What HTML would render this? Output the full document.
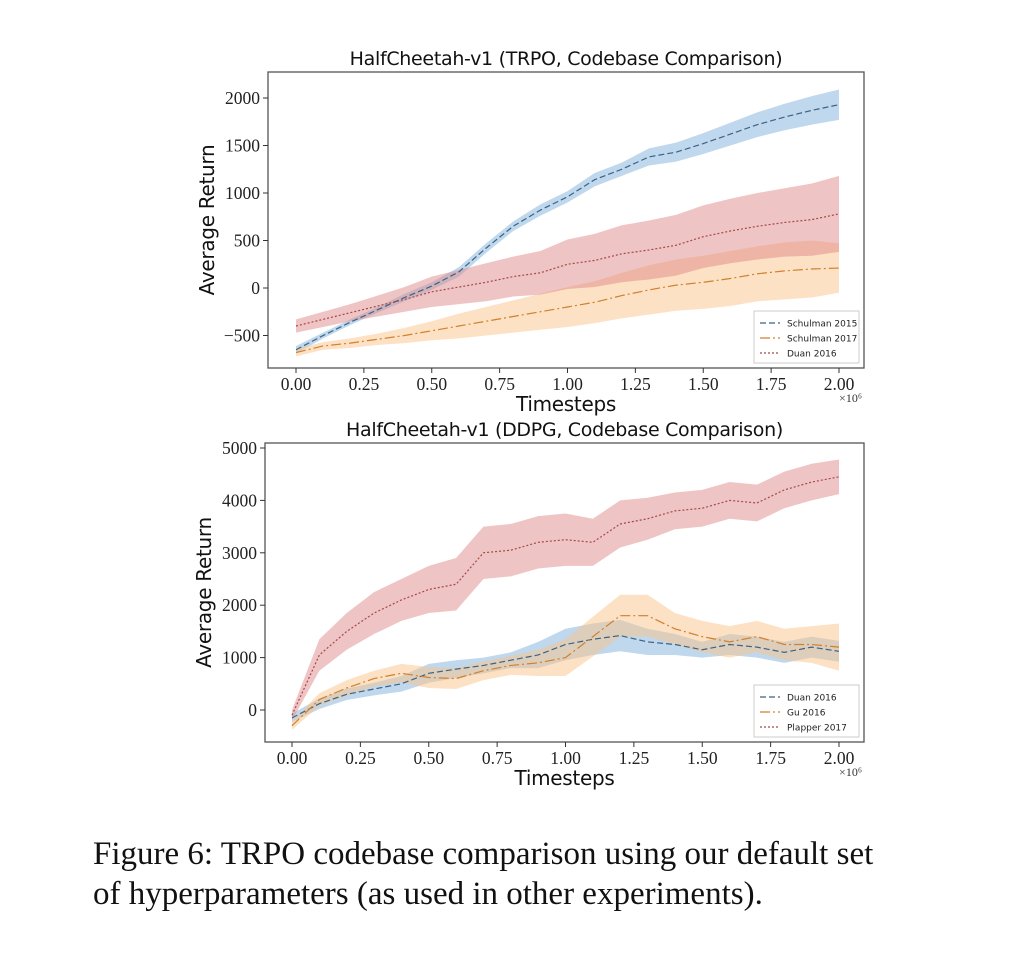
<!DOCTYPE html>
<html><head><meta charset="utf-8"><style>
body{margin:0;background:#fff;width:1024px;height:973px;overflow:hidden;font-family:"Liberation Serif",serif}
svg{position:absolute;left:0;top:0}
.cap{position:absolute;left:93px;font-size:33px;color:#111;font-family:"Liberation Serif",serif;white-space:nowrap}
</style></head><body>
<svg id="chart" width="1024" height="973"></svg>
<div class="cap" style="top:836px">Figure 6: TRPO codebase comparison using our default set</div>
<div class="cap" style="top:876px">of hyperparameters (as used in other experiments).</div>
<script>
const xs = [0,0.1,0.2,0.3,0.4,0.5,0.6,0.7,0.8,0.9,1.0,1.1,1.2,1.3,1.4,1.5,1.6,1.7,1.8,1.9,2.0];
const xTicks = [0,0.25,0.5,0.75,1.0,1.25,1.5,1.75,2.0];
const xTickLabels = ["0.00","0.25","0.50","0.75","1.00","1.25","1.50","1.75","2.00"];
// Top chart (TRPO)
const topYTicks = [-500,0,500,1000,1500,2000];
const topYTickLabels = ["\u2212500","0","500","1000","1500","2000"];
const topNames = ["Schulman 2015","Schulman 2017","Duan 2016"];
const topMean = [
 [-650,-500,-360,-230,-100,20,170,420,650,820,960,1140,1250,1380,1430,1520,1620,1720,1800,1870,1930],
 [-680,-610,-580,-540,-500,-450,-400,-350,-300,-250,-200,-150,-80,-20,30,60,100,150,180,200,210],
 [-400,-330,-260,-190,-120,-40,10,60,120,160,250,290,360,400,450,540,600,650,690,720,780]];
const topSpread = [
 [40,30,30,30,40,40,50,50,50,60,60,70,70,90,100,110,120,130,140,150,160],
 [40,40,50,60,80,100,130,150,170,190,210,220,240,260,270,280,290,290,300,300,260],
 [70,80,90,110,130,160,180,200,210,230,260,280,300,310,320,330,340,350,360,380,400]];
// Bottom chart (DDPG)
const botYTicks = [0,1000,2000,3000,4000,5000];
const botYTickLabels = ["0","1000","2000","3000","4000","5000"];
const botNames = ["Duan 2016","Gu 2016","Plapper 2017"];
const botMean = [
 [-150,120,300,400,500,700,780,850,950,1050,1250,1350,1420,1300,1250,1150,1250,1200,1100,1200,1120],
 [-300,200,420,600,700,620,600,750,850,900,1000,1400,1800,1800,1550,1400,1300,1400,1250,1250,1200],
 [-100,1050,1500,1850,2100,2300,2400,3000,3050,3200,3250,3200,3550,3650,3800,3850,4000,3950,4200,4350,4450]];
const botSpread = [
 [80,100,110,120,150,180,170,150,150,250,300,300,300,250,200,150,200,200,200,200,200],
 [80,120,150,150,180,200,200,180,180,250,350,380,400,400,300,300,300,300,300,350,450],
 [100,300,350,400,400,450,500,500,500,500,500,450,450,400,350,350,350,350,350,350,330]];

const NS="http://www.w3.org/2000/svg";
const svg=document.getElementById('chart');
function mk(tag,attrs,parent){const e=document.createElementNS(NS,tag);for(const k in attrs)e.setAttribute(k,attrs[k]);(parent||svg).appendChild(e);return e;}
const fills=["#7fb2dc","#fbc48a","#e08a8a"];
const strokes=["#3d6283","#d0802e","#a84848"];
const dashes=["6,3","10,3,2,3","2,2"];
function drawChart(cfg){
  const g=mk('g',{});
  
  
  const X=v=>cfg.x0+(v-0)/2*(cfg.x1-cfg.x0);
  const Y=v=>cfg.yA+(v-cfg.vA)*(cfg.yB-cfg.yA)/(cfg.vB-cfg.vA);
  const t=mk('text',{x:(cfg.L+cfg.R)/2,y:cfg.T-7,'text-anchor':'middle','font-size':19,'letter-spacing':'-0.3','font-family':'"DejaVu Sans",sans-serif',fill:'#111'},g);
  t.textContent=cfg.title;
  
  
  for(let s=0;s<3;s++){
    let up=xs.map((x,i)=>X(x)+','+Y(cfg.mean[s][i]+cfg.spread[s][i]));
    let lo=xs.map((x,i)=>X(x)+','+Y(cfg.mean[s][i]-cfg.spread[s][i])).reverse();
    const b=mk('polygon',{points:up.concat(lo).join(' '),fill:fills[s],'fill-opacity':0.5},g);
    
    
  }
  for(let s=0;s<3;s++){
    const l=mk('polyline',{points:xs.map((x,i)=>X(x)+','+Y(cfg.mean[s][i])).join(' '),fill:'none',stroke:strokes[s],'stroke-width':1.2,'stroke-dasharray':dashes[s]},g);
    
    
  }
  const fr=mk('rect',{x:cfg.L,y:cfg.T,width:cfg.R-cfg.L,height:cfg.B-cfg.T,fill:'none',stroke:'#555','stroke-width':1.3},g);
  
  
  xTicks.forEach((v,i)=>{
    mk('line',{x1:X(v),x2:X(v),y1:cfg.B,y2:cfg.B+5,stroke:'#333'},g);
    const tt=mk('text',{x:X(v),y:cfg.B+22,'text-anchor':'middle','font-size':17.5,fill:'#222'},g);
    tt.textContent=xTickLabels[i];
    
    
  });
  cfg.yTicks.forEach((v,i)=>{
    mk('line',{x1:cfg.L-5,x2:cfg.L,y1:Y(v),y2:Y(v),stroke:'#333'},g);
    const tt=mk('text',{x:cfg.L-8,y:Y(v)+6,'text-anchor':'end','font-size':17.5,fill:'#222'},g);
    tt.textContent=cfg.yLabels[i];
    
    
  });
  const xl=mk('text',{x:(cfg.L+cfg.R)/2,y:cfg.B+43,'text-anchor':'middle','font-size':20,'letter-spacing':'-0.3','font-family':'"DejaVu Sans",sans-serif',fill:'#111'},g);
  xl.textContent='Timesteps';
  
  
  const sc=mk('text',{x:cfg.R-2,y:cfg.B+34,'text-anchor':'end','font-size':12,fill:'#333'},g);
  sc.textContent='\u00d710\u2076';
  
  
  const yl=mk('text',{x:0,y:0,'text-anchor':'middle','font-size':20,'letter-spacing':'-0.3','font-family':'"DejaVu Sans",sans-serif',fill:'#111',transform:`translate(${cfg.L-54},${(cfg.T+cfg.B)/2}) rotate(-90)`},g);
  yl.textContent='Average Return';
  
  
  const lg=mk('g',{},g);
  
  
  const lx=cfg.R-110, ly=cfg.B-57;
  mk('rect',{x:lx,y:ly,width:105,height:52,fill:'#fff',stroke:'#ccc','fill-opacity':0.85},lg);
  for(let s=0;s<3;s++){
    const yy=ly+12+s*15;
    mk('line',{x1:lx+6,x2:lx+26,y1:yy,y2:yy,stroke:strokes[s],'stroke-width':1.2,'stroke-dasharray':dashes[s]},lg);
    const e=mk('text',{x:lx+33,y:yy+3.5,'font-size':9,'font-family':'"DejaVu Sans",sans-serif',fill:'#222'},lg);
    e.textContent=cfg.names[s];
    
    
  }
}
drawChart({name:'trpo-chart',title:'HalfCheetah-v1 (TRPO, Codebase Comparison)',L:268,R:864,T:72,B:368,x0:296,x1:839,vA:0,yA:288,vB:2000,yB:98,yTicks:topYTicks,yLabels:topYTickLabels,names:topNames,mean:topMean,spread:topSpread});
drawChart({name:'ddpg-chart',title:'HalfCheetah-v1 (DDPG, Codebase Comparison)',L:265,R:864,T:443,B:742,x0:292,x1:839,vA:0,yA:710,vB:5000,yB:448,yTicks:botYTicks,yLabels:botYTickLabels,names:botNames,mean:botMean,spread:botSpread});
</script>
</body></html>
